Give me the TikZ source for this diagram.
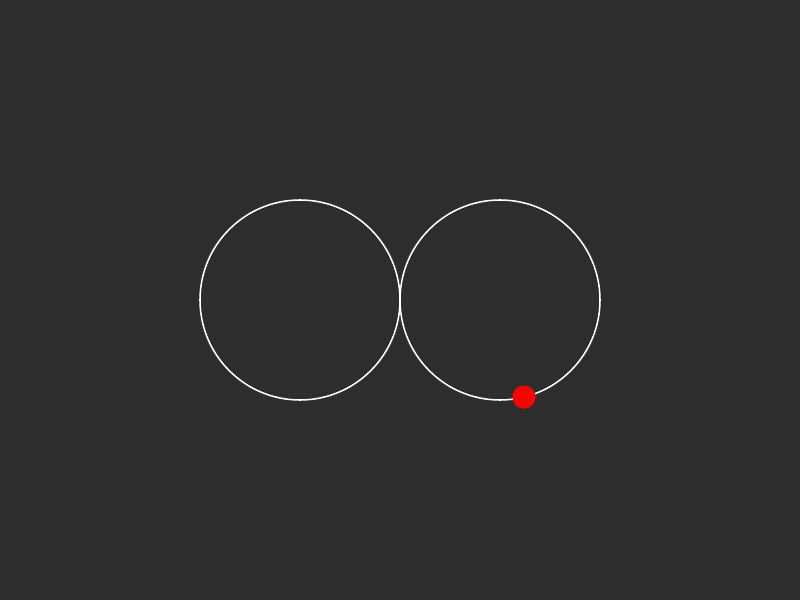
\documentclass[tikz,border=0pt]{standalone}
\usepackage{xcolor}
\usepackage{tikz}
\usetikzlibrary{calc}
\definecolor{bgdark}{HTML}{2D2D2D}
\begin{document}
\begin{tikzpicture}
\def\R{2.5cm}
\fill[bgdark] (0,0) rectangle (20,15);
\useasboundingbox (0,0) rectangle (20,15);
\coordinate (leftc) at (7.5,7.5);
\coordinate (rightc) at (12.5,7.5);
\draw[white, line width=1.1pt] (leftc) circle[radius=\R];
\draw[white, line width=1.1pt] (rightc) circle[radius=\R];
\fill[red] ($(rightc)+(-76.1:\R)$) circle[radius=0.29cm];
\end{tikzpicture}
\end{document}
